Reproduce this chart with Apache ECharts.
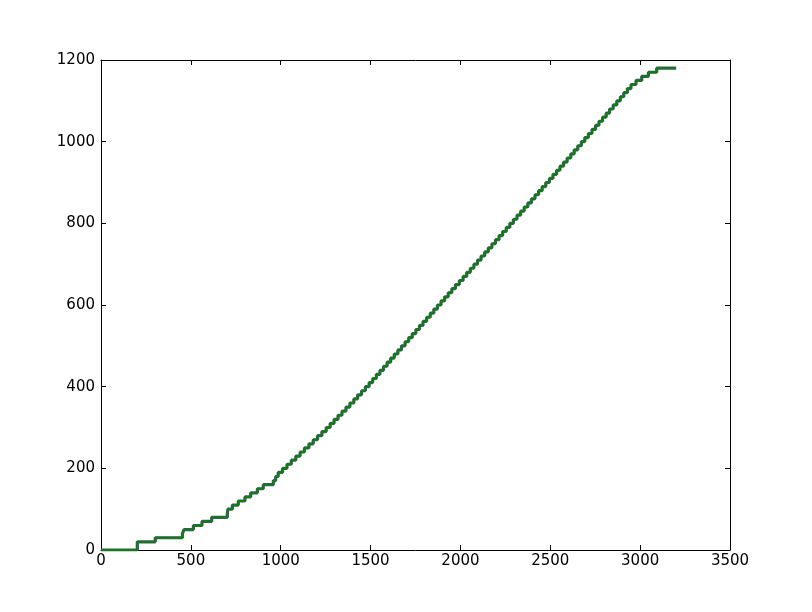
<!DOCTYPE html>
<html>
<head>
<meta charset="utf-8">
<script src="https://cdn.jsdelivr.net/npm/echarts@6/dist/echarts.min.js"></script>
<style>
  html, body { margin: 0; padding: 0; background: #fff; }
  #main { width: 812px; height: 612px; }
</style>
</head>
<body>
<div id="main"></div>
<script>
// x where each count level begins
var stepX = [0, 202, 302, 453, 462, 514, 562, 616, 703, 706, 731, 764, 801, 833, 870, 903, 959, 972, 986,
  1010, 1035, 1059, 1084, 1108, 1132, 1157, 1181, 1205, 1229, 1253, 1275, 1297, 1319, 1341, 1363, 1385, 1407, 1428, 1450, 1471, 1492,
  1512, 1532, 1552, 1572, 1592, 1612, 1632, 1652, 1672, 1692, 1712, 1732, 1752, 1772, 1792, 1812, 1832, 1852, 1872, 1892, 1912, 1932, 1952, 1972, 1994,
  2015, 2035, 2055, 2075, 2095, 2115, 2135, 2155, 2175, 2195, 2215, 2235, 2255, 2275, 2295, 2315, 2335, 2355, 2375, 2395, 2415, 2435, 2455, 2475, 2495,
  2515, 2535, 2554, 2574, 2594, 2614, 2633, 2653, 2673, 2692, 2712, 2732, 2752, 2771, 2791, 2811, 2830, 2850, 2870, 2890, 2909, 2929, 2949,
  2977, 3009, 3046, 3092, 3200];
var stepY = [0, 20, 30, 40, 50, 60, 70, 80, 90, 100, 110, 120, 130, 140, 150, 160, 170, 180, 190,
  200, 210, 220, 230, 240, 250, 260, 270, 280, 290, 300, 310, 320, 330, 340, 350, 360, 370, 380, 390, 400, 410,
  420, 430, 440, 450, 460, 470, 480, 490, 500, 510, 520, 530, 540, 550, 560, 570, 580, 590, 600, 610, 620, 630, 640, 650, 660,
  670, 680, 690, 700, 710, 720, 730, 740, 750, 760, 770, 780, 790, 800, 810, 820, 830, 840, 850, 860, 870, 880, 890, 900, 910,
  920, 930, 940, 950, 960, 970, 980, 990, 1000, 1010, 1020, 1030, 1040, 1050, 1060, 1070, 1080, 1090, 1100, 1110, 1120, 1130, 1140,
  1150, 1160, 1170, 1180, 1180];
var xTicks = [0, 500, 1000, 1500, 2000, 2500, 3000, 3500];
var yTicks = [0, 200, 400, 600, 800, 1000, 1200];

var pts = stepX.map(function (x, i) { return [x, stepY[i]]; });

var font = 'DejaVu Sans';
function plain(v) { return String(v); }
function xAxisDef(pos, labels) {
  return {
    type: 'value', position: pos, min: xTicks[0], max: xTicks[xTicks.length - 1], interval: 500,
    axisLine: { show: true, onZero: false, lineStyle: { color: '#000', width: 1 } },
    axisTick: { show: true, inside: true, length: 5, lineStyle: { color: '#000' } },
    axisLabel: { show: labels, color: '#000', fontFamily: font, fontSize: 15, margin: 4, formatter: plain },
    splitLine: { show: false }
  };
}
function yAxisDef(pos, labels) {
  return {
    type: 'value', position: pos, min: yTicks[0], max: yTicks[yTicks.length - 1], interval: 200,
    axisLine: { show: true, onZero: false, lineStyle: { color: '#000', width: 1 } },
    axisTick: { show: true, inside: true, length: 5, lineStyle: { color: '#000' } },
    axisLabel: { show: labels, color: '#000', fontFamily: font, fontSize: 15, margin: 6, formatter: plain },
    splitLine: { show: false }
  };
}

var myChart = echarts.init(document.getElementById('main'), null, { renderer: 'canvas' });
myChart.setOption({
  animation: false,
  backgroundColor: '#fff',
  grid: { left: 101, right: 82, top: 60, bottom: 62 },
  xAxis: [xAxisDef('bottom', true), xAxisDef('top', false)],
  yAxis: [yAxisDef('left', true), yAxisDef('right', false)],
  series: [
    {
      type: 'line', step: 'end', data: pts, showSymbol: false,
      lineStyle: { color: '#44546a', width: 3.2 }
    },
    {
      type: 'line', step: 'end', data: pts, showSymbol: false,
      lineStyle: { color: '#0c800c', width: 1.8 }
    }
  ]
});
</script>
</body>
</html>
